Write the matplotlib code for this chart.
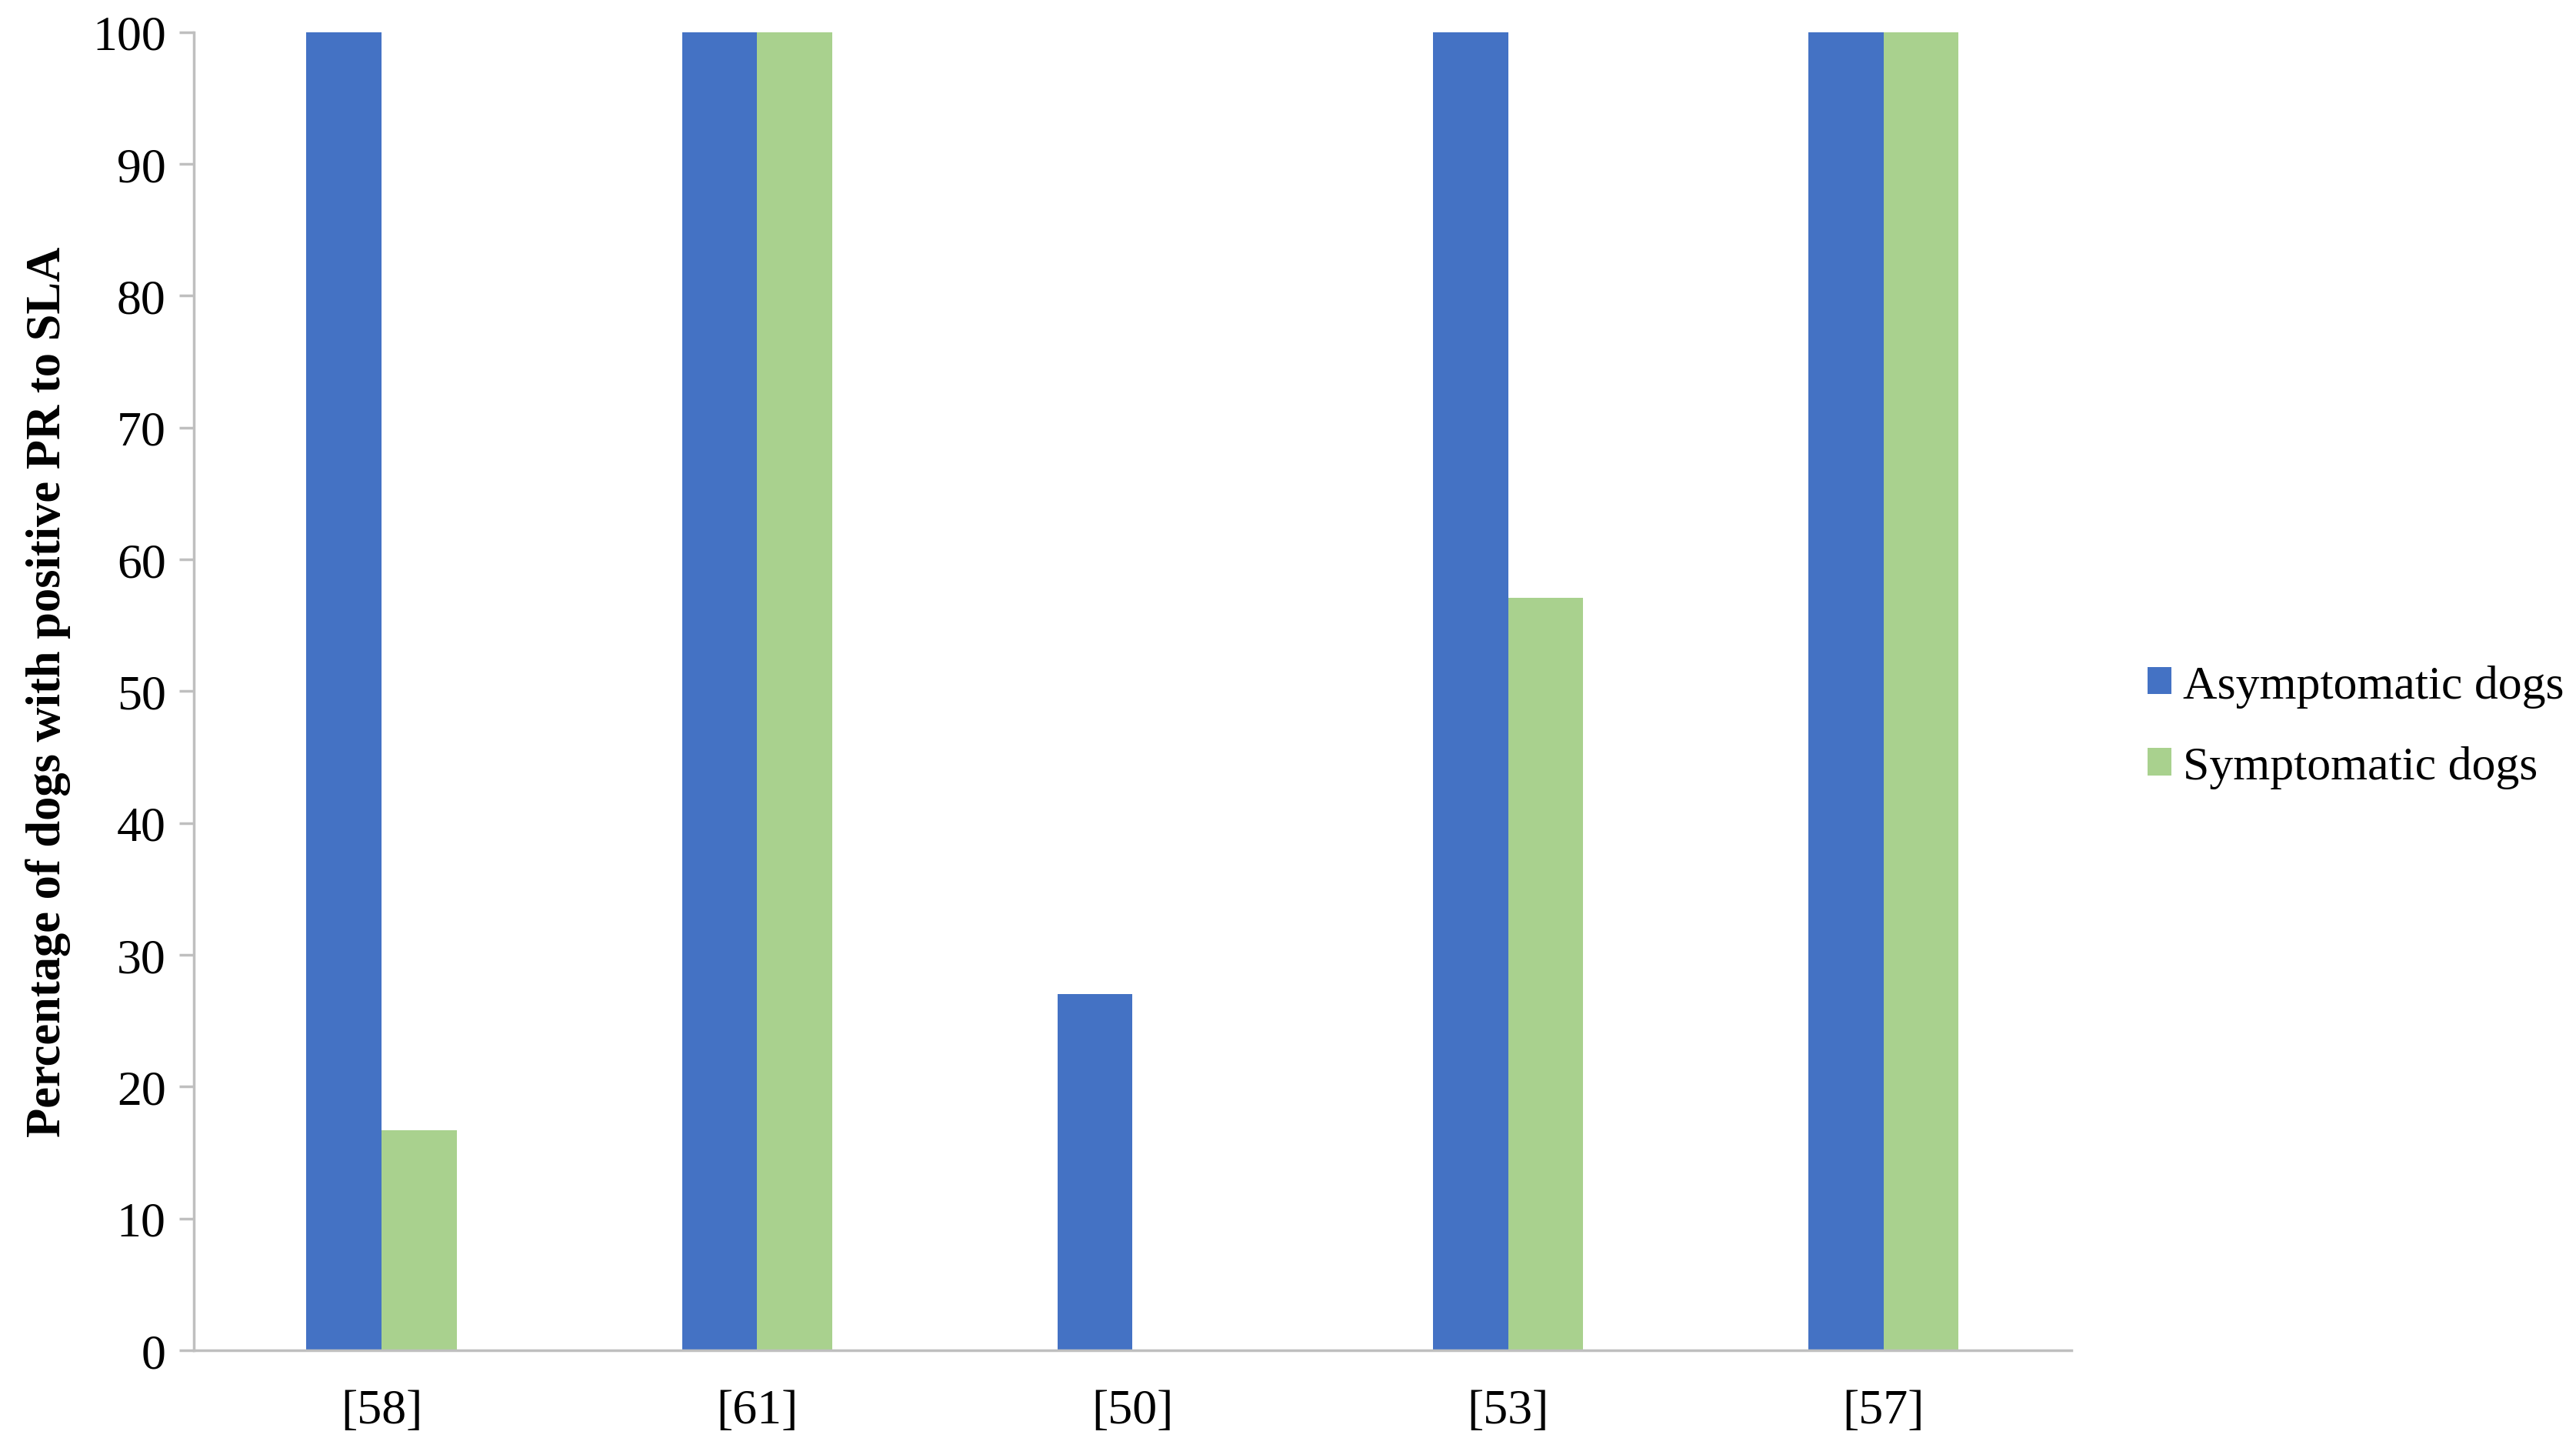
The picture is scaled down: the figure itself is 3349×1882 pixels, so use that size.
import numpy as np
import matplotlib
matplotlib.use("Agg")
import matplotlib.pyplot as plt

studies = ["[58]", "[61]", "[50]", "[53]", "[57]"]
asymptomatic = [100, 100, 27.0, 100, 100]
symptomatic = [16.7, 100, 0, 57.1, 100]

plt.rcParams["font.family"] = ["Liberation Serif", "DejaVu Serif"]

fig = plt.figure(figsize=(33.49, 18.83), dpi=100)
ax = fig.add_axes([0.0752, 0.0674, 0.7289, 0.9099])

x = np.arange(len(studies))
w = 0.2
ax.bar(x - w / 2, asymptomatic, w, color="#4472C4", label="Asymptomatic dogs")
ax.bar(x + w / 2, symptomatic, w, color="#A9D18E", label="Symptomatic dogs")

ax.set_xlim(-0.5, len(studies) - 0.5)
ax.set_ylim(0, 100)
ax.set_yticks(np.arange(0, 101, 10))
ax.set_xticks(x)
ax.set_xticklabels(studies)
ax.tick_params(axis="y", labelsize=46, length=14, width=2.5, color="#BFBFBF", pad=12)
ax.tick_params(axis="x", labelsize=46, length=0, pad=36)
for s in ["top", "right"]:
    ax.spines[s].set_visible(False)
for s in ["left", "bottom"]:
    ax.spines[s].set_color("#BFBFBF")
    ax.spines[s].set_linewidth(2.5)

ax.set_ylabel("Percentage of dogs with positive PR to SLA", fontsize=45, fontweight="bold", labelpad=20)

fig.legend(loc="center left", bbox_to_anchor=(0.8337, 0.498), frameon=False, fontsize=44.5,
           borderpad=0, borderaxespad=0, handlelength=0.5, handleheight=0.5,
           handletextpad=0.25, labelspacing=0.8)

fig.savefig("out.png", dpi=100)
